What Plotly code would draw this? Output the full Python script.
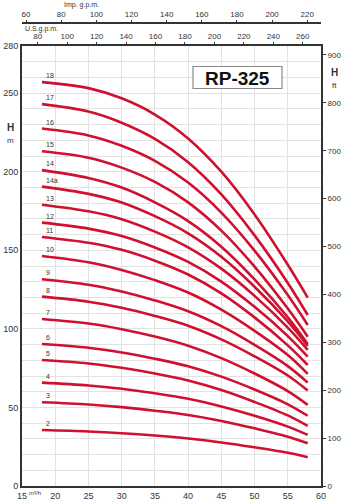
import plotly.graph_objects as go

# Flow points (m3/h) at which heads were read
flow = [18, 25, 30, 35, 40, 45, 50, 55, 58]

stage_labels = ["18", "17", "16", "15", "14", "14a", "13", "12", "11", "10",
                "9", "8", "7", "6", "5", "4", "3", "2"]

head_18 = [257, 253.2, 246.7, 236.4, 221.2, 200, 172.8, 140.8, 119.9]
head_17 = [243, 238.3, 231.2, 220.9, 206.1, 185.6, 159.5, 129.2, 108.8]
head_16 = [227.5, 223.1, 216.5, 206.9, 193.1, 174, 149.8, 121.5, 102.5]
head_15 = [213, 208.9, 202.6, 193.5, 180.5, 162.5, 139.6, 112.9, 95]
head_14 = [201, 196, 189.9, 180.5, 168.6, 152.3, 131.5, 107.4, 90.4]
head_14a = [190.5, 185.9, 180.4, 171.7, 160.8, 145.9, 126.8, 104.7, 89.1]
head_13 = [179, 174.8, 169.8, 161.9, 151.9, 138.3, 121, 100.8, 86.6]
head_12 = [167.6, 163.8, 159.1, 151.8, 142.6, 130.1, 114, 95.4, 82.3]
head_11 = [158.5, 154.8, 150.3, 143.4, 134.6, 122.6, 107.3, 89.5, 77]
head_10 = [146.4, 142.4, 137.5, 131, 123.1, 112.2, 98.7, 83.3, 71.3]
head_9 = [131.6, 128.1, 123.8, 118.1, 111.2, 101.7, 89.8, 76.3, 65.8]
head_8 = [120.5, 117.3, 113.4, 108.2, 102, 93.3, 82.5, 70.3, 60.7]
head_7 = [106.3, 103.4, 99.8, 95.1, 89.3, 81.4, 71.6, 60.4, 51.6]
head_6 = [90.4, 88, 85, 81, 76.2, 69.6, 61.4, 52, 44.7]
head_5 = [80.2, 78, 75.2, 71.6, 67.2, 61.1, 53.5, 44.9, 38.2]
head_4 = [65.8, 64, 61.9, 59, 55.5, 50.6, 44.7, 37.8, 32.5]
head_3 = [53.3, 51.9, 50.2, 47.9, 45.2, 41.4, 36.7, 31.4, 27.2]
head_2 = [35.6, 34.7, 33.6, 32.1, 30.2, 27.7, 24.6, 21.1, 18.3]

heads = [head_18, head_17, head_16, head_15, head_14, head_14a, head_13, head_12,
         head_11, head_10, head_9, head_8, head_7, head_6, head_5, head_4, head_3, head_2]

x_ticks = [15, 20, 25, 30, 35, 40, 45, 50, 55, 60]
y_ticks_m = [0, 50, 100, 150, 200, 250, 280]
y_ticks_ft = [0, 100, 200, 300, 400, 500, 600, 700, 800, 900]
usgpm_ticks = [80, 100, 120, 140, 160, 180, 200, 220, 240, 260]
impgpm_ticks = [60, 80, 100, 120, 140, 160, 180, 200, 220]

RED = "#d0102f"
AX = "#333333"
GRID = "#e2e2e2"
FONT = "Liberation Sans"

fig = go.Figure()

for lab, h in zip(stage_labels, heads):
    fig.add_trace(go.Scatter(x=flow, y=h, mode="lines",
                             line=dict(color=RED, width=2.6, shape="spline"),
                             hoverinfo="skip", showlegend=False))
    fig.add_annotation(x=flow[0] + 0.35, y=h[0], text=lab, showarrow=False,
                       xanchor="left", yanchor="bottom", yshift=1,
                       font=dict(size=7, color=AX, family=FONT))

# dummy traces to anchor the top / right axes
fig.add_trace(go.Scatter(x=[usgpm_ticks[0]], y=[0], xaxis="x2", yaxis="y",
                         mode="markers", marker=dict(opacity=0), hoverinfo="skip", showlegend=False))
fig.add_trace(go.Scatter(x=[impgpm_ticks[0]], y=[0], xaxis="x3", yaxis="y",
                         mode="markers", marker=dict(opacity=0), hoverinfo="skip", showlegend=False))
fig.add_trace(go.Scatter(x=[15], y=[0], xaxis="x", yaxis="y2",
                         mode="markers", marker=dict(opacity=0), hoverinfo="skip", showlegend=False))

ytop = 440 / 463

fig.update_layout(
    width=345, height=500,
    margin=dict(l=22, r=24, t=23, b=14, autoexpand=False),
    paper_bgcolor="white", plot_bgcolor="white",
    font=dict(family=FONT, size=9, color=AX),
    xaxis=dict(range=[15, 60], tickvals=x_ticks, showgrid=True, gridcolor=GRID, gridwidth=1,
               showline=True, linecolor=AX, linewidth=2, mirror=True, ticks="",
               zeroline=False, tickfont=dict(size=9), automargin=False),
    xaxis2=dict(range=[69.3, 272.4], overlaying="x", side="top", anchor="y",
                tickvals=usgpm_ticks, ticks="outside", ticklen=3, tickwidth=1, tickcolor=AX,
                showgrid=False, showline=False, zeroline=False, tickfont=dict(size=8),
                automargin=False),
    xaxis3=dict(range=[57.7, 227.8], overlaying="x", side="top", anchor="free", position=1,
                tickvals=impgpm_ticks, ticks="outside", ticklen=2, tickwidth=1, tickcolor=AX,
                showgrid=False, showline=True, linecolor=AX, linewidth=2, zeroline=False,
                tickfont=dict(size=8), automargin=False),
    yaxis=dict(range=[0, 280], domain=[0, ytop], tickvals=y_ticks_m, showgrid=True,
               gridcolor=GRID, gridwidth=1, showline=True, linecolor=AX, linewidth=2,
               mirror=True, ticks="", zeroline=False, tickfont=dict(size=9), automargin=False,
               minor=dict(dtick=10, showgrid=True, gridcolor=GRID, gridwidth=1)),
    yaxis2=dict(range=[0, 280 * 3.28084], overlaying="y", side="right", anchor="x",
                tickvals=y_ticks_ft, ticks="outside", ticklen=3, tickwidth=1, tickcolor=AX,
                showgrid=False, showline=True, linecolor=AX, linewidth=2, zeroline=False,
                tickfont=dict(size=8), automargin=False),
)

def px_x(px):
    return (px - 22) / 299

def px_y(py):
    return (486 - py) / 463

# Title box
fig.add_shape(type="rect", xref="paper", yref="paper",
              x0=px_x(193), x1=px_x(282), y0=px_y(88.5), y1=px_y(66.5),
              line=dict(color="#8a8a8a", width=1.2), fillcolor="white", layer="above")
fig.add_annotation(xref="paper", yref="paper", x=px_x(237.5), y=px_y(78),
                   text="<b>RP-325</b>", showarrow=False, xanchor="center", yanchor="middle",
                   font=dict(size=19, color="#111111", family=FONT))

# Axis titles
fig.add_annotation(xref="paper", yref="paper", x=px_x(10), y=px_y(127), text="<b>H</b>",
                   showarrow=False, font=dict(size=10, color=AX), xanchor="center", yanchor="middle")
fig.add_annotation(xref="paper", yref="paper", x=px_x(10), y=px_y(140), text="m",
                   showarrow=False, font=dict(size=8, color=AX), xanchor="center", yanchor="middle")
fig.add_annotation(xref="paper", yref="paper", x=px_x(334), y=px_y(73), text="<b>H</b>",
                   showarrow=False, font=dict(size=10, color=AX), xanchor="center", yanchor="middle")
fig.add_annotation(xref="paper", yref="paper", x=px_x(334), y=px_y(85), text="ft",
                   showarrow=False, font=dict(size=8, color=AX), xanchor="center", yanchor="middle")
fig.add_annotation(xref="paper", yref="paper", x=px_x(62), y=px_y(5), text="Imp. g.p.m.",
                   showarrow=False, font=dict(size=7, color=AX), xanchor="left", yanchor="middle")
fig.add_annotation(xref="paper", yref="paper", x=px_x(23), y=px_y(29), text="U.S.g.p.m.",
                   showarrow=False, font=dict(size=7, color=AX), xanchor="left", yanchor="middle")
fig.add_annotation(xref="paper", yref="paper", x=px_x(35), y=px_y(493), text="m³/h",
                   showarrow=False, font=dict(size=6, color=AX), xanchor="center", yanchor="middle")

fig.write_html("out.html")
